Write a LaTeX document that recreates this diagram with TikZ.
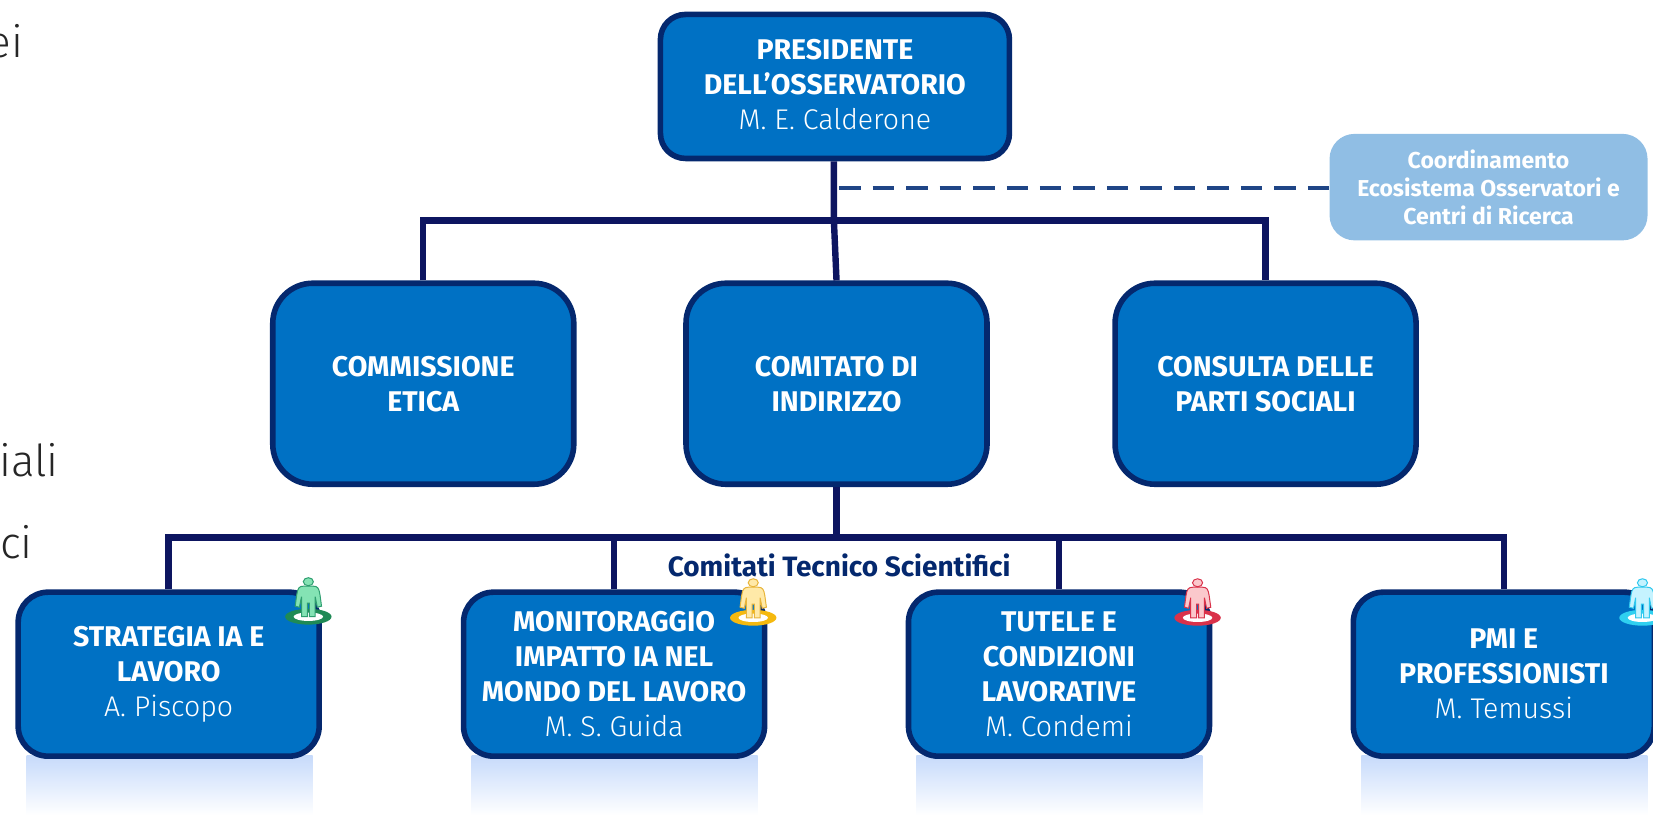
\documentclass[tikz,border=0pt]{standalone}
\usepackage{fontspec}
\setmainfont{Fira Sans}
\newfontfamily\lightf{Fira Sans Light}
\definecolor{boxfill}{HTML}{0071C4}
\definecolor{boxline}{HTML}{04286E}
\definecolor{conn}{HTML}{0D1560}
\definecolor{dashc}{HTML}{1F4586}
\definecolor{softb}{HTML}{90BEE4}
\definecolor{shad}{HTML}{C6DAFB}
\definecolor{gA}{HTML}{84E3B4}\definecolor{gB}{HTML}{2F9E70}\definecolor{gC}{HTML}{1F8A55}
\definecolor{yA}{HTML}{FFE9A8}\definecolor{yB}{HTML}{E8B53A}\definecolor{yC}{HTML}{F5B90F}
\definecolor{rA}{HTML}{FBC8CC}\definecolor{rB}{HTML}{D9324A}\definecolor{rC}{HTML}{D9324A}
\definecolor{cA}{HTML}{C5F3FF}\definecolor{cB}{HTML}{30C8EE}\definecolor{cC}{HTML}{2FD0F0}
\tikzset{
  orgbox/.style={draw=boxline,line width=5.6pt,fill=boxfill,rounded corners=#1,text=white,align=center,inner sep=0pt,font=\fontsize{28.5}{35}\selectfont\bfseries},
  orgbox/.default=20pt,
  link/.style={draw=conn,line width=6.4pt},
  dashlink/.style={draw=dashc,line width=3.8pt,dash pattern=on 21.47pt off 12pt},
  fragment/.style={anchor=base west,inner sep=0pt,font=\fontsize{44}{44}\selectfont\lightf,text=black!85},
  shadow/.style={draw=none,shade,top color=shad,bottom color=white,minimum width=286pt,minimum height=60pt,inner sep=0pt,anchor=north},
}
\newcommand{\nm}[1]{{\mdseries\lightf\fontsize{28.5}{35}\selectfont #1}}
\newcommand{\person}[5]{% x y fill outline ring
  \begin{scope}[shift={(#1,#2)}]
    \fill[#5] (0,37) ellipse (22 and 7.5);
    \fill[white] (0,37) ellipse (14 and 4);
    \draw[#4,line width=1pt,fill=#3]
      (-4.5,8) .. controls (-9,8) and (-10,10) .. (-11,16) -- (-12.5,27) -- (-8.5,28) -- (-6.5,18) -- (-6.5,37) -- (-1,37) -- (-1,24) -- (1,24) -- (1,37) -- (6.5,37) -- (6.5,18) -- (8.5,28) -- (12.5,27) -- (11,16) .. controls (10,10) and (9,8) .. (4.5,8) -- cycle;
    \draw[#4,line width=1pt,fill=#3] (0,3.8) ellipse (4.8 and 3.8);
  \end{scope}
}
\begin{document}
\begin{tikzpicture}[x=1.0542pt,y=-1.0542pt]
\useasboundingbox (0,0) rectangle (1568,773.1);
\clip (0,0) rectangle (1568,773.1);
% shadows
\foreach \cx/\nn in {161/sa,583/sb,1005/sc,1427/sd}
  \node[shadow] (\nn) at (\cx,716) {};
% fragments
\node[fragment] (f1) at (-12,55) {ei};
\node[fragment] (f2) at (-1,452) {iali};
\node[fragment] (f3) at (0,530) {ci};
% nodes
\node[orgbox=25pt,minimum width=349pt,minimum height=144pt] (pres) at (792,82) {PRESIDENTE\\DELL’OSSERVATORIO\\\nm{M. E. Calderone}\rule[-4pt]{0pt}{0pt}};
\node[orgbox=40pt,minimum width=301pt,minimum height=201pt] (etica) at (401.5,364) {COMMISSIONE\\ETICA};
\node[orgbox=40pt,minimum width=301pt,minimum height=201pt] (indir) at (793.5,364) {COMITATO DI\\INDIRIZZO};
\node[orgbox=40pt,minimum width=301pt,minimum height=201pt] (parti) at (1200.5,364) {CONSULTA DELLE\\PARTI SOCIALI};
\node[orgbox=30pt,minimum width=301pt,minimum height=164pt] (s1) at (160,639.5) {STRATEGIA IA E\\LAVORO\\\nm{A. Piscopo}};
\node[orgbox=30pt,minimum width=301pt,minimum height=164pt] (s2) at (582.5,639.5) {MONITORAGGIO\\IMPATTO IA NEL\\MONDO DEL LAVORO\\\nm{M. S. Guida}};
\node[orgbox=30pt,minimum width=301pt,minimum height=164pt] (s3) at (1004.5,639.5) {TUTELE E\\CONDIZIONI\\LAVORATIVE\\\nm{M. Condemi}};
\node[orgbox=30pt,minimum width=301pt,minimum height=164pt] (s4) at (1426.5,639.5) {PMI E\\PROFESSIONISTI\\\nm{M. Temussi}};
\node[draw=none,fill=softb,rounded corners=25pt,minimum width=318pt,minimum height=106.5pt,text=white,align=center,inner sep=0pt,font=\fontsize{23}{28}\selectfont\bfseries] (coord) at (1412,177.5) {Coordinamento\\Ecosistema Osservatori e\\Centri di Ricerca};
\node[inner sep=0pt,text=boxline,font=\fontsize{28}{30}\selectfont\bfseries] (ctslab) at (796,536) {Comitati Tecnico Scientifici};
% junctions
\coordinate (j1) at (791,209);
\coordinate (j2) at (793.5,510);
\coordinate (d1) at (796,178);
% connectors
\draw[link] (pres.south -| j1) -- (j1) -- (indir.north);
\draw[link,line join=miter] (etica.north) -- (etica.north |- j1) -- (parti.north |- j1) -- (parti.north);
\draw[link] (indir.south) -- (j2);
\draw[link,line join=miter] (s1.north) -- (s1.north |- j2) -- (s4.north |- j2) -- (s4.north);
\draw[link] (s2.north) -- (s2.north |- j2);
\draw[link] (s3.north) -- (s3.north |- j2);
\draw[dashlink] (d1) -- (coord.west |- d1);
% icons
\person{292.5}{548}{gA}{gB}{gC}
\person{714.5}{549}{yA}{yB}{yC}
\person{1136}{549}{rA}{rB}{rC}
\person{1558}{549}{cA}{cB}{cC}
\end{tikzpicture}
\end{document}
